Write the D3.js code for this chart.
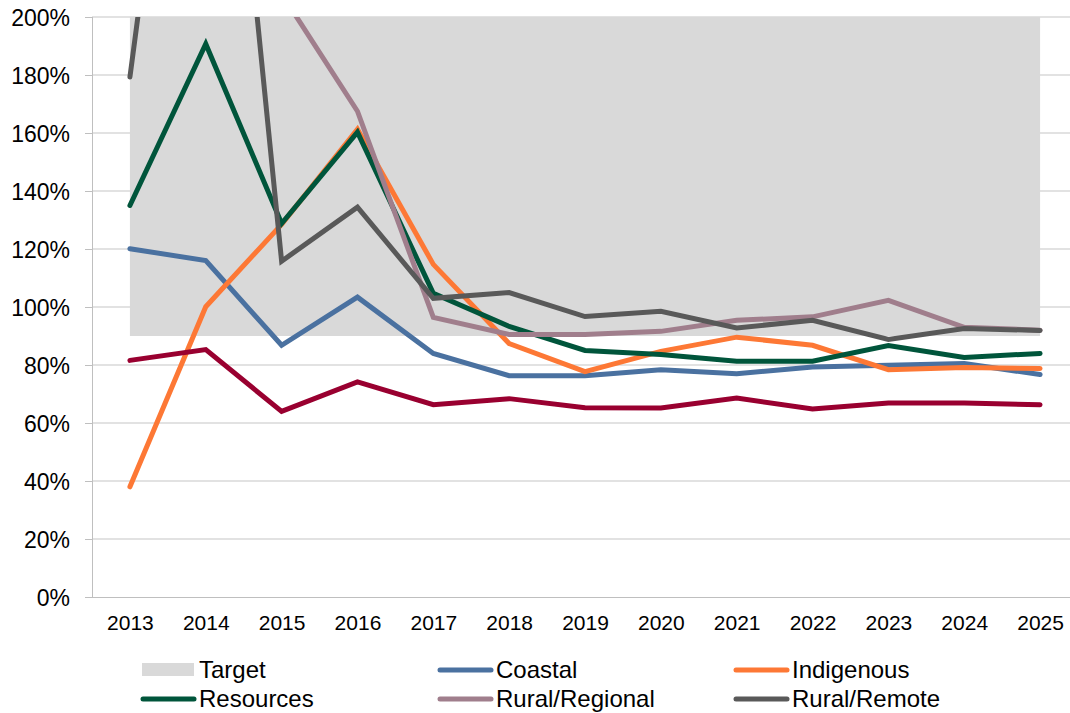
<!DOCTYPE html>
<html lang="en">
<head>
  <meta charset="UTF-8">
  <title>Line chart with target band</title>
  <script src="https://d3js.org/d3.v7.min.js"></script>
  <style>
    body {
      margin: 0;
      background: #fff;
    }
    svg {
      display: block;
      font-family: "Liberation Sans", Arial, sans-serif;
    }
    .axis path,
    .axis line {
      shape-rendering: crispEdges;
    }
  </style>
</head>
<body>
  <svg width="1070" height="713"></svg>

  <script>
    // Data (values as fractions)
    const years = ["2013", "2014", "2015", "2016", "2017", "2018", "2019", "2020", "2021", "2022", "2023", "2024", "2025"];
    const yTicks = [0, 0.2, 0.4, 0.6, 0.8, 1.0, 1.2, 1.4, 1.6, 1.8, 2.0];

    const targetLow  = [0.9, 0.9, 0.9, 0.9, 0.9, 0.9, 0.9, 0.9, 0.9, 0.9, 0.9, 0.9, 0.9];
    const targetHigh = [2.0, 2.0, 2.0, 2.0, 2.0, 2.0, 2.0, 2.0, 2.0, 2.0, 2.0, 2.0, 2.0];

    const coastal       = [1.201, 1.160, 0.868, 1.034, 0.840, 0.763, 0.763, 0.784, 0.770, 0.793, 0.799, 0.805, 0.767];
    const indigenous    = [0.380, 1.001, 1.285, 1.613, 1.147, 0.874, 0.777, 0.847, 0.896, 0.868, 0.784, 0.791, 0.788];
    const resources     = [1.350, 1.907, 1.288, 1.603, 1.047, 0.933, 0.850, 0.836, 0.813, 0.813, 0.867, 0.826, 0.840];
    const ruralRegional = [null, null, 2.08, 1.675, 0.964, 0.905, 0.905, 0.916, 0.954, 0.966, 1.023, 0.930, 0.920];
    const ruralRemote   = [1.793, 3.77, 1.158, 1.344, 1.030, 1.050, 0.967, 0.985, 0.928, 0.954, 0.888, 0.926, 0.919];
    const series7       = [0.816, 0.853, 0.640, 0.742, 0.663, 0.684, 0.653, 0.652, 0.686, 0.648, 0.669, 0.669, 0.663];

    const lineSeries = [
      { name: "Coastal", values: coastal, color: "#4a71a0" },
      { name: "Indigenous", values: indigenous, color: "#fd7835" },
      { name: "Resources", values: resources, color: "#00553b" },
      { name: "Rural/Regional", values: ruralRegional, color: "#a07e8c" },
      { name: "Rural/Remote", values: ruralRemote, color: "#595959" },
      { name: "", values: series7, color: "#990030" }
    ];

    const svg = d3.select("svg");
    const plot = { left: 92, right: 1078, top: 17, bottom: 597 };

    const x = d3.scalePoint()
      .domain(years)
      .range([plot.left, plot.right])
      .padding(0.5);

    const y = d3.scaleLinear()
      .domain([0, 2])
      .range([plot.bottom, plot.top]);

    svg.append("defs").append("clipPath")
      .attr("id", "plot-clip")
      .append("rect")
      .attr("x", plot.left)
      .attr("y", plot.top)
      .attr("width", plot.right - plot.left)
      .attr("height", plot.bottom - plot.top);

    // Gridlines
    svg.append("g")
      .selectAll("line")
      .data(yTicks.filter(d => d > 0))
      .join("line")
      .attr("x1", plot.left)
      .attr("x2", plot.right)
      .attr("y1", d => y(d))
      .attr("y2", d => y(d))
      .attr("stroke", "#d9d9d9")
      .attr("stroke-width", 1.5);

    // Target band
    const area = d3.area()
      .x((d, i) => x(years[i]))
      .y0((d, i) => y(targetLow[i]))
      .y1((d, i) => y(targetHigh[i]));

    svg.append("path")
      .datum(years)
      .attr("clip-path", "url(#plot-clip)")
      .attr("fill", "#d9d9d9")
      .attr("d", area);

    // Axes
    const yAxis = svg.append("g")
      .attr("class", "axis")
      .attr("transform", `translate(${plot.left},0)`)
      .call(d3.axisLeft(y)
        .tickValues(yTicks)
        .tickFormat(d3.format(".0%"))
        .tickSize(7)
        .tickPadding(15));
    yAxis.select(".domain").attr("stroke", "#bfbfbf").attr("stroke-width", 1.5);
    yAxis.selectAll(".tick line").attr("stroke", "#bfbfbf").attr("stroke-width", 1.5);
    yAxis.selectAll("text")
      .attr("font-size", 23)
      .attr("font-family", "Liberation Sans, Arial, sans-serif")
      .attr("fill", "#000")
      .attr("dy", "0.36em");

    const xAxis = svg.append("g")
      .attr("class", "axis")
      .attr("transform", `translate(0,${plot.bottom})`)
      .call(d3.axisBottom(x).tickSize(0).tickPadding(18));
    xAxis.select(".domain").attr("stroke", "#bfbfbf").attr("stroke-width", 1.5);
    xAxis.selectAll("text")
      .attr("font-size", 21)
      .attr("font-family", "Liberation Sans, Arial, sans-serif")
      .attr("fill", "#000");

    // Lines
    const line = d3.line()
      .defined(d => d != null)
      .x((d, i) => x(years[i]))
      .y(d => y(d));

    const lines = svg.append("g").attr("clip-path", "url(#plot-clip)");
    lineSeries.forEach(s => {
      lines.append("path")
        .datum(s.values)
        .attr("fill", "none")
        .attr("stroke", s.color)
        .attr("stroke-width", 5)
        .attr("stroke-linecap", "round")
        .attr("stroke-linejoin", "miter")
        .attr("d", line);
    });

    // Legend
    const legendItems = [
      { name: "Target", type: "rect", color: "#d9d9d9" },
      ...lineSeries.slice(0, 5).map(s => ({ name: s.name, type: "line", color: s.color }))
    ];
    const colX = [140, 437, 733];
    const rowY = [670, 699];

    const legend = svg.append("g");
    legendItems.forEach((d, i) => {
      const cx = colX[i % 3];
      const cy = rowY[Math.floor(i / 3)];
      const g = legend.append("g").attr("transform", `translate(${cx},${cy})`);
      if (d.type === "rect") {
        g.append("rect")
          .attr("x", 2)
          .attr("y", -7)
          .attr("width", 52)
          .attr("height", 13)
          .attr("fill", d.color);
      } else {
        g.append("line")
          .attr("x1", 3)
          .attr("x2", 54)
          .attr("stroke", d.color)
          .attr("stroke-width", 5)
          .attr("stroke-linecap", "round");
      }
      g.append("text")
        .attr("x", 59)
        .attr("y", 8)
        .attr("font-size", 24)
        .attr("fill", "#000")
        .text(d.name);
    });
  </script>
</body>
</html>
